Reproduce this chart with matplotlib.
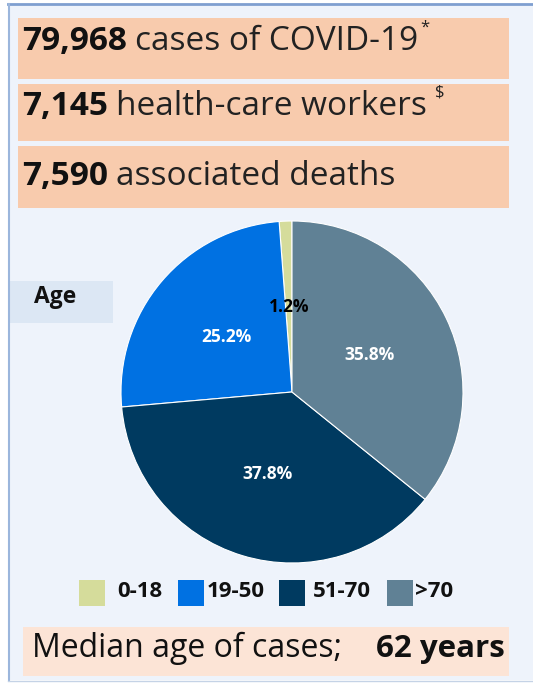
import matplotlib.pyplot as plt
from matplotlib.patches import Rectangle

# data
age_groups = ["0-18", "19-50", "51-70", ">70"]
age_share = [1.2, 25.2, 37.8, 35.8]
colors = ["#d5dc9b", "#0071e2", "#003a60", "#608195"]
headline_nums = ["79,968", "7,145", "7,590"]
headline_text = ["cases of COVID-19", "health-care workers", "associated deaths"]
headline_sup = ["*", "$", ""]
median_age = 62

W, H = 533, 684
fig = plt.figure(figsize=(W / 100, H / 100), dpi=100)
fig.patch.set_facecolor("white")
plt.rcParams["font.family"] = ["Open Sans", "DejaVu Sans"]

bg = fig.add_axes([0, 0, 1, 1])
bg.set_xlim(0, W)
bg.set_ylim(H, 0)
bg.axis("off")
inv = bg.transData.inverted()

# panel background and border
bg.add_patch(Rectangle((8, 4), W - 8, 676, facecolor="#eef3fb", edgecolor="none"))
bg.plot([8, W], [4, 4], color="#7f9fd0", lw=2)
bg.plot([8.5, 8.5], [4, 680], color="#9bb6dc", lw=1.5)
bg.plot([8, W], [680.5, 680.5], color="#c5d3e6", lw=1)


def end_x(t):
    fig.canvas.draw()
    return inv.transform((t.get_window_extent().x1, 0))[0]


# headline boxes
boxes = [(18, 79), (84, 141), (146, 208)]
baselines = [50, 115, 185]
sup_gap = [2, 8, 0]
for (y0, y1), yb, gap, num, txt, sup in zip(boxes, baselines, sup_gap,
                                           headline_nums, headline_text, headline_sup):
    bg.add_patch(Rectangle((18, y0), 491, y1 - y0, facecolor="#f8cbad", edgecolor="none"))
    t = bg.text(22, yb, num, fontsize=24, fontweight="bold", color="#111111",
                va="baseline", ha="left")
    t2 = bg.text(end_x(t) + 8, yb, txt, fontsize=24, color="#222222",
                 va="baseline", ha="left")
    if sup:
        bg.text(end_x(t2) + gap, yb - 18, sup, fontsize=12, color="#222222",
                va="baseline", ha="left")

# Age label
bg.add_patch(Rectangle((10, 281), 103, 42, facecolor="#dce7f4", edgecolor="none"))
bg.text(34, 303, "Age", fontsize=16.5, fontweight="bold", color="#111111",
        va="baseline", ha="left")

# pie
cx, cy, r = 292, 392, 171
pax = fig.add_axes([(cx - r) / W, (H - cy - r) / H, 2 * r / W, 2 * r / H])
wedges, texts, autotexts = pax.pie(
    age_share, colors=colors, startangle=90, counterclock=True,
    autopct="%1.1f%%", pctdistance=0.5,
    wedgeprops=dict(edgecolor="white", linewidth=0.8))
pax.set_xlim(-1, 1)
pax.set_ylim(-1, 1)
pax.set_aspect("equal")
for i, at in enumerate(autotexts):
    at.set_fontsize(12.5)
    at.set_fontweight("bold")
    at.set_color("black" if i == 0 else "white")

# legend
sq_x = [79, 178, 279, 387]
lab_x = [117, 207, 313, 415]
for c, sx, lx, lab in zip(colors, sq_x, lab_x, age_groups):
    bg.add_patch(Rectangle((sx, 580), 26, 26, facecolor=c, edgecolor="none"))
    bg.text(lx, 597, lab, fontsize=16, fontweight="bold", color="#111111",
            va="baseline", ha="left")

# median box
bg.add_patch(Rectangle((23, 627), 486, 49, facecolor="#fce4d6", edgecolor="none"))
bg.text(32, 657, "Median age of cases;", fontsize=23, color="#111111",
        va="baseline", ha="left")
bg.text(376, 657, f"{median_age} years", fontsize=22.5, fontweight="bold",
        color="#111111", va="baseline", ha="left")

fig.savefig("out.png", dpi=100)
